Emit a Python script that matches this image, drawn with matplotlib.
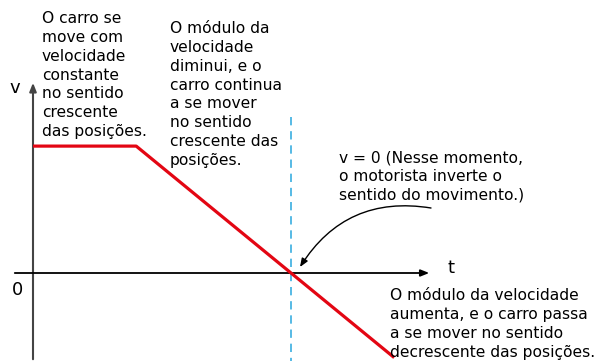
import matplotlib
matplotlib.use('Agg')
import matplotlib.pyplot as plt

# velocity vs time (arbitrary units)
t = [0, 2, 5, 7]
v = [3, 3, 0, -2]
t_stop = 5

notes = [
    "O carro se\nmove com\nvelocidade\nconstante\nno sentido\ncrescente\ndas posições.",
    "O módulo da\nvelocidade\ndiminui, e o\ncarro continua\na se mover\nno sentido\ncrescente das\nposições.",
    "v = 0 (Nesse momento,\no motorista inverte o\nsentido do movimento.)",
    "O módulo da velocidade\naumenta, e o carro passa\na se mover no sentido\ndecrescente das posições.",
]

W, H = 601, 361
x0, y0 = 33, 273          # pixel of origin
sx, sy = 51.6, 42.3       # pixels per unit

def px(x, y):
    # pixel (y down) -> data
    return (x - x0) / sx, (y0 - y) / sy

fig = plt.figure(figsize=(W / 100, H / 100), dpi=100)
ax = fig.add_axes([0, 0, 1, 1])
ax.set_xlim(px(0, 0)[0], px(W, 0)[0])
ax.set_ylim(px(0, H)[1], px(0, 0)[1])
ax.axis('off')

# axes
ax.annotate('', xy=px(33, 80), xytext=px(33, 362),
            arrowprops=dict(arrowstyle='-|>,head_length=0.5,head_width=0.2', color='#444444', lw=1.5))
ax.annotate('', xy=px(432, 273), xytext=px(12, 273),
            arrowprops=dict(arrowstyle='-|>,head_length=0.5,head_width=0.2', color='black', lw=1.3))

ax.plot([t_stop, t_stop], [px(0, 117)[1], px(0, 362)[1]], color='#3aaee0', lw=1.2,
        ls=(0, (5, 3.5)))
ax.plot(t, v, color='#e30613', lw=2.3, solid_capstyle='butt', zorder=3)

ax.text(*px(9, 88), 'v', fontsize=13, va='center', ha='left')
ax.text(*px(12, 290), '0', fontsize=13, va='center', ha='left')
ax.text(*px(447, 268), 't', fontsize=13, va='center', ha='left')

fs = 11.2
ls = 1.32
ax.text(*px(42, 11), notes[0], fontsize=fs, va='top', ha='left', linespacing=ls)
ax.text(*px(170, 21), notes[1], fontsize=fs, va='top', ha='left', linespacing=ls)
ax.text(*px(339, 150), notes[2], fontsize=fs, va='top', ha='left', linespacing=ls)
ax.text(*px(390, 288), notes[3], fontsize=fs, va='top', ha='left', linespacing=ls)

ax.annotate('', xy=px(300, 267), xytext=px(431, 208),
            arrowprops=dict(arrowstyle='-|>,head_length=0.5,head_width=0.2', color='black',
                            lw=1.0, connectionstyle='arc3,rad=0.33', shrinkA=0, shrinkB=0))

fig.savefig('out.png', dpi=100)
